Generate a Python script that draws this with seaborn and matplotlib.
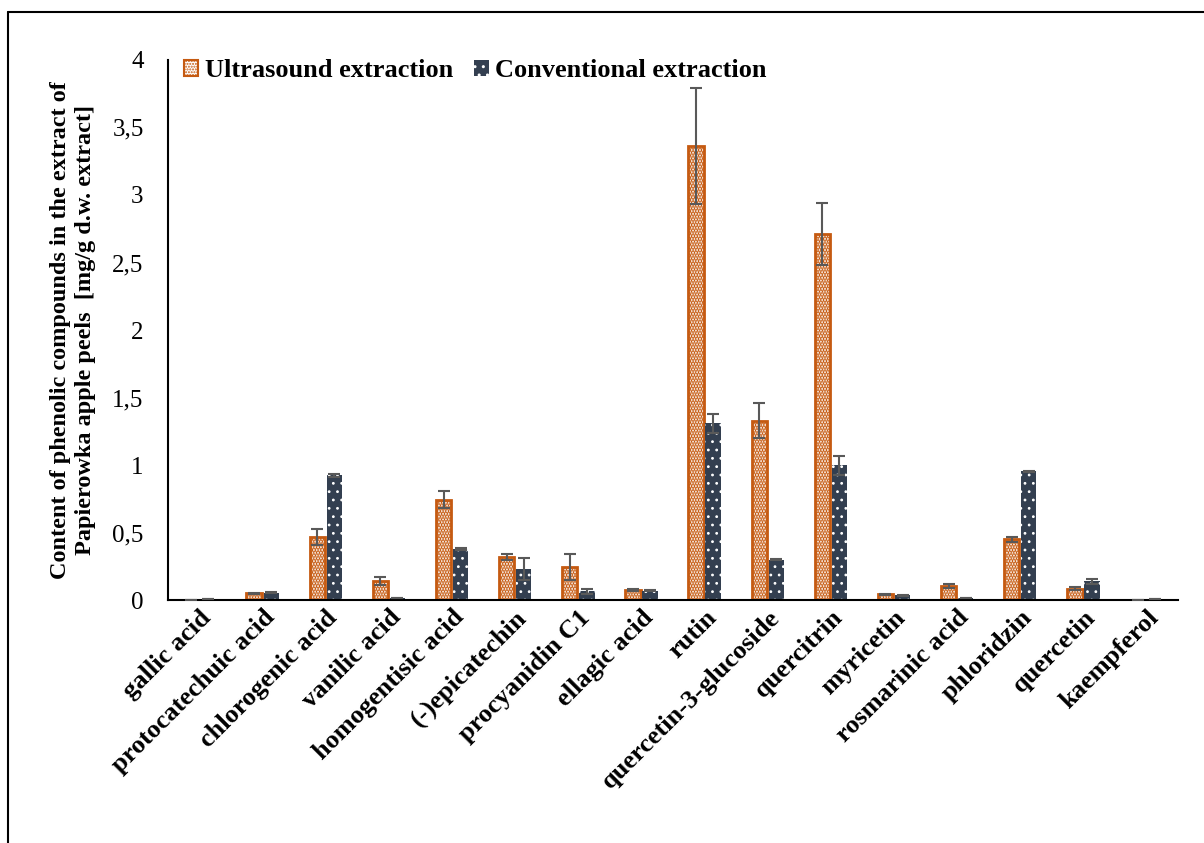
import matplotlib
matplotlib.use("Agg")
import matplotlib.pyplot as plt
from matplotlib.lines import Line2D
from matplotlib.ticker import FuncFormatter
import seaborn as sns
import pandas as pd
import numpy as np

categories = ["gallic acid", "protocatechuic acid", "chlorogenic acid", "vanilic acid",
              "homogentisic acid", "(-)epicatechin", "procyanidin C1", "ellagic acid",
              "rutin", "quercetin-3-glucoside", "quercitrin", "myricetin",
              "rosmarinic acid", "phloridzin", "quercetin", "kaempferol"]
ultrasound = [0.004, 0.05, 0.47, 0.14, 0.745, 0.32, 0.245, 0.075,
              3.36, 1.33, 2.71, 0.045, 0.105, 0.45, 0.085, 0.005]
ultrasound_err = [0.0, 0.005, 0.06, 0.03, 0.06, 0.025, 0.095, 0.005,
                  0.43, 0.13, 0.23, 0.003, 0.015, 0.02, 0.01, 0.0]
conventional = [0.006, 0.055, 0.925, 0.015, 0.38, 0.23, 0.065, 0.07,
                1.31, 0.30, 1.00, 0.035, 0.015, 0.955, 0.14, 0.007]
conventional_err = [0.0, 0.005, 0.01, 0.002, 0.01, 0.08, 0.02, 0.003,
                    0.07, 0.005, 0.07, 0.005, 0.002, 0.005, 0.02, 0.0]
series_names = ["Ultrasound extraction", "Conventional extraction"]

df = pd.DataFrame({
    "compound": categories * 2,
    "value": ultrasound + conventional,
    "method": [series_names[0]] * len(categories) + [series_names[1]] * len(categories),
})

sns.set_style("white")
plt.rcParams["font.family"] = ["Liberation Serif", "DejaVu Serif"]
for k in ["text.color", "axes.labelcolor", "xtick.color", "ytick.color"]:
    plt.rcParams[k] = "black"
plt.rcParams["hatch.linewidth"] = 1.0

fig = plt.figure(figsize=(12.04, 8.43), dpi=100)
ax = fig.add_axes([0.1395, 0.288, 0.839, 0.641])

orange = "#C55A11"
navy = "#333F50"

sns.barplot(data=df, x="compound", y="value", hue="method", order=categories,
            hue_order=series_names, palette=["white", navy], width=0.54, gap=0.1,
            errorbar=None, ax=ax, legend=True)

n = len(categories)
bar_containers = list(ax.containers)
for ci, cont in enumerate(bar_containers):
    errs = ultrasound_err if ci == 0 else conventional_err
    vals = ultrasound if ci == 0 else conventional
    xs = []
    for p in cont.patches:
        if ci == 0:
            p.set_facecolor("white")
            p.set_edgecolor(orange)
            p.set_linewidth(2.0)
            p.set_hatch("......")
            if hasattr(p, "_hatch_linewidth"):
                p._hatch_linewidth = 1.8
        else:
            p.set_facecolor(navy)
            p.set_edgecolor("white")
            p.set_linewidth(0)
            p.set_hatch("..")
            if hasattr(p, "_hatch_linewidth"):
                p._hatch_linewidth = 0.8
        xs.append(p.get_x() + p.get_width() / 2)
    ax.errorbar(xs, vals, yerr=errs, fmt="none", ecolor="#595959",
                elinewidth=1.5, capsize=4.5, capthick=1.5, zorder=5)

ax.set_xlim(-0.5, n - 0.5)
ax.set_ylim(0, 4)
ax.set_yticks(np.arange(0, 4.01, 0.5))
ax.yaxis.set_major_formatter(FuncFormatter(lambda v, p: ("%g" % v).replace(".", ",")))
ax.tick_params(axis="y", direction="inout", length=11, width=1.5, labelsize=18, pad=12)
ax.tick_params(axis="x", length=0, pad=4)
for sp in ["top", "right"]:
    ax.spines[sp].set_visible(False)
ax.spines["left"].set_linewidth(1.5)
ax.spines["bottom"].set_linewidth(1.5)
ax.spines["left"].set_color("black")
ax.spines["bottom"].set_color("black")

ax.set_xlabel("")
ax.set_ylabel("Content of phenolic compounds in the extract of\nPapierowka apple peels  [mg/g d.w. extract]",
              fontsize=17.5, fontweight="bold", labelpad=12, linespacing=1.2)
ax.set_xticks(range(n))
ax.set_xticklabels(categories, rotation=45, ha="right", rotation_mode="anchor",
                   fontsize=19, fontweight="bold")

leg = ax.get_legend()
if leg is not None:
    leg.remove()
h1 = plt.Rectangle((0, 0), 1, 1, facecolor="white", edgecolor=orange, hatch="......", linewidth=1.5)
h2 = plt.Rectangle((0, 0), 1, 1, facecolor=navy, edgecolor="white", hatch="..", linewidth=0)
ax.legend([h1, h2], series_names, loc="upper left", bbox_to_anchor=(0.0, 1.03), ncol=2,
          frameon=False, prop={"weight": "bold", "size": 19}, handlelength=0.55,
          handleheight=0.55, handletextpad=0.25, columnspacing=0.8, borderaxespad=0.2)

fig.add_artist(Line2D([8 / 1204, 8 / 1204], [0, 1 - 12 / 843], color="black", linewidth=1.5,
                      transform=fig.transFigure))
fig.add_artist(Line2D([8 / 1204, 1], [1 - 12 / 843, 1 - 12 / 843], color="black", linewidth=1.5,
                      transform=fig.transFigure))

fig.savefig("out.png", dpi=100, facecolor="white")
